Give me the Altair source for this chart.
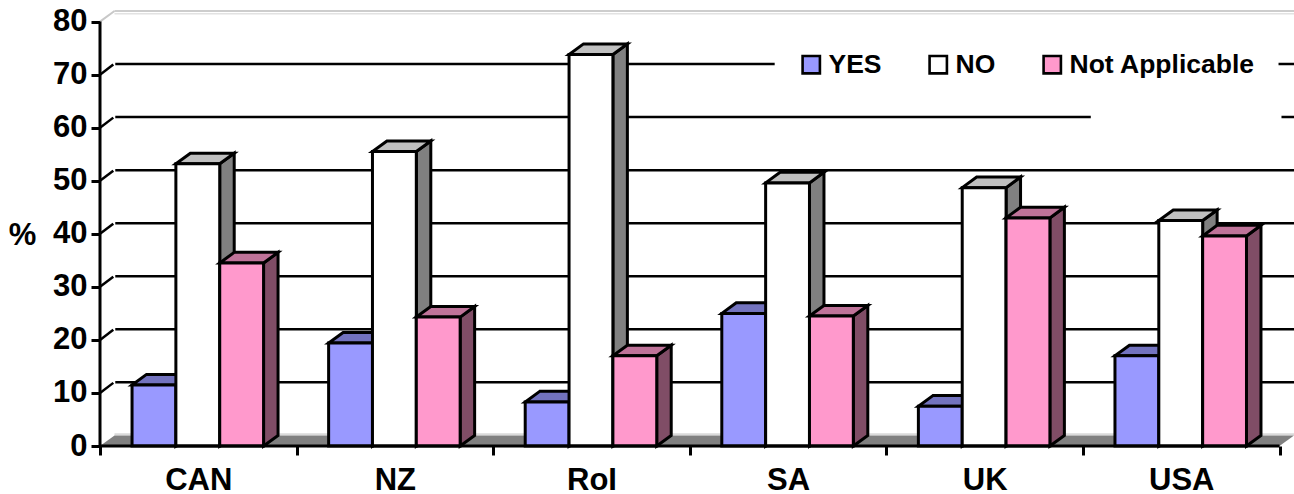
import altair as alt
import pandas as pd

# Survey responses (%) by country
countries = ["CAN", "NZ", "RoI", "SA", "UK", "USA"]
yes_values = [11.5, 19.4, 8.3, 25.0, 7.5, 17.0]
no_values = [53.2, 55.5, 73.8, 49.6, 48.7, 42.5]
na_values = [34.5, 24.3, 17.0, 24.5, 43.0, 39.6]
series_names = ["YES", "NO", "Not Applicable"]
y_ticks = [0, 10, 20, 30, 40, 50, 60, 70, 80]

# Colours per series: front face, top face, side face
front_colours = ["#9999FF", "#FFFFFF", "#FF99CC"]
top_colours = ["#7373BF", "#C0C0C0", "#BF7399"]
side_colours = ["#5A5A99", "#808080", "#804D66"]

# Extruded look, in axis units
DEPTH_X = 0.0737
DEPTH_Y = 2.0
BAR_W = 0.2230
GROUP_START = 0.163
X_END = 6 + DEPTH_X
Y_END = 80 + DEPTH_Y
FONT = "Liberation Sans"
EDGE = 3

x_scale = alt.Scale(domain=[0, X_END], nice=False, zero=False)
y_scale = alt.Scale(domain=[0, Y_END], nice=False)
X = lambda f="x", **k: alt.X(f"{f}:Q", scale=x_scale, axis=k.pop("axis", None), **k)
Y = lambda f="y", **k: alt.Y(f"{f}:Q", scale=y_scale, axis=k.pop("axis", None), **k)


def hrule(rows, colour, width):
    return alt.Chart(pd.DataFrame(rows)).mark_rule(color=colour, strokeWidth=width).encode(
        x=X(), x2="x2:Q", y=Y())


# Back wall: gridlines and their returns to the axis
grid_rows = [{"x": DEPTH_X + 0.004, "x2": X_END, "y": v + DEPTH_Y} for v in y_ticks[1:-1]]
grid = hrule(grid_rows, "#000000", 2.5)
return_rows = []
for v in y_ticks[1:-1]:
    return_rows += [{"v": v, "x": 0, "y": v}, {"v": v, "x": DEPTH_X - 0.006, "y": v + DEPTH_Y - 0.1}]
returns = alt.Chart(pd.DataFrame(return_rows)).mark_line(color="#000000", strokeWidth=2.5).encode(
    x=X(), y=Y(), detail="v:O")

# Pale top edge of the wall and pale floor edge
top_edge = hrule([{"x": DEPTH_X, "x2": X_END, "y": Y_END}], "#BDBDBD", 1.5)
top_edge2 = hrule([{"x": DEPTH_X, "x2": X_END, "y": Y_END - 0.5}], "#E2E2E2", 1.5)
corner_rows = [{"x": 0, "y": 80}, {"x": DEPTH_X, "y": Y_END}]
corner = alt.Chart(pd.DataFrame(corner_rows)).mark_line(color="#C8C8C8", strokeWidth=2).encode(x=X(), y=Y())
floor_edge = hrule([{"x": DEPTH_X, "x2": X_END, "y": DEPTH_Y + 0.2}], "#DADADA", 2)

# Floor
floor_rows = [{"x": 0, "x2": 6, "y": 0}, {"x": DEPTH_X, "x2": X_END, "y": DEPTH_Y}]
floor = alt.Chart(pd.DataFrame(floor_rows)).mark_area(orient="horizontal", color="#808080").encode(
    x=X(), x2="x2:Q", y=Y())

# Clear space behind the legend
mask_rows = [
    {"x": 3.432, "x2": 5.995, "y": 70.5, "y2": 74},
    {"x": 5.04, "x2": 6.01, "y": 60.5, "y2": 64},
]
mask = alt.Chart(pd.DataFrame(mask_rows)).mark_rect(color="#FFFFFF").encode(
    x=X(), x2="x2:Q", y=Y(), y2="y2:Q")

# Three faces of every bar, one series at a time so nearer faces cover farther ones
bar_layers = []
colour_scale = alt.Scale(domain=series_names, range=front_colours)
legend = alt.Legend(
    orient="none", legendX=698, legendY=40, direction="horizontal", columns=3, title=None,
    symbolType="square", symbolSize=300, symbolStrokeColor="#000000", symbolStrokeWidth=2.6,
    labelFont=FONT, labelFontWeight="bold", labelFontSize=26.5, labelColor="#000000",
    labelOffset=4, columnPadding=42, symbolOpacity=1, labelLimit=400,
)
for s, (name, values) in enumerate(zip(series_names, [yes_values, no_values, na_values])):
    front, top, side = [], [], []
    for i, (c, v) in enumerate(zip(countries, values)):
        x0 = i + GROUP_START + s * BAR_W
        x1 = x0 + BAR_W
        front.append({"series": name, "x": x0, "x2": x1, "y": v})
        top += [{"bar": c, "x": x0, "x2": x1, "y": v},
                {"bar": c, "x": x0 + DEPTH_X, "x2": x1 + DEPTH_X, "y": v + DEPTH_Y}]
        side += [{"bar": c, "x": x1, "y": v, "y2": 0},
                 {"bar": c, "x": x1 + DEPTH_X, "y": v + DEPTH_Y, "y2": DEPTH_Y}]
    bar_layers.append(
        alt.Chart(pd.DataFrame(side)).mark_area(color=side_colours[s], stroke="#000000", strokeWidth=EDGE)
        .encode(x=X(), y=Y(), y2="y2:Q", detail="bar:N"))
    bar_layers.append(
        alt.Chart(pd.DataFrame(top)).mark_area(orient="horizontal", color=top_colours[s], stroke="#000000",
                                               strokeWidth=EDGE)
        .encode(x=X(), x2="x2:Q", y=Y(), detail="bar:N"))
    bar_layers.append(
        alt.Chart(pd.DataFrame(front)).mark_rect(stroke="#000000", strokeWidth=EDGE, opacity=1)
        .encode(x=X(), x2="x2:Q", y=Y(), y2=alt.datum(0),
                color=alt.Color("series:N", scale=colour_scale, legend=legend)))

# Axes: the horizontal one carries the boundary ticks, the vertical one the country names
tick_axis = alt.Axis(orient="bottom", values=list(range(7)), labels=False, title=None, domain=False,
                     tickSize=9, tickWidth=3, tickColor="#000000", grid=False)
label_axis = alt.Axis(orient="bottom", values=[i + 0.5 for i in range(6)], ticks=False, domain=False, title=None,
                      grid=False,
                      labelExpr="[" + ",".join(f"'{c}'" for c in countries) + "][floor(datum.value)]",
                      labelFont=FONT, labelFontWeight="bold", labelFontSize=31, labelColor="#000000",
                      labelPadding=19, labelAngle=0)
value_axis = alt.Axis(orient="left", values=y_ticks, domain=False, grid=False, tickSize=9, tickWidth=3,
                      tickColor="#000000",
                      labelFont=FONT, labelFontWeight="bold", labelFontSize=31, labelColor="#000000",
                      labelPadding=4, title="%", titleAngle=0, titleFont=FONT, titleFontWeight="bold",
                      titleFontSize=31, titleColor="#000000", titleAlign="center", titleBaseline="middle",
                      titleX=-78, titleY=224)

x_line = alt.Chart(pd.DataFrame([{"x": 0, "x2": 6, "y": 0}])).mark_rule(color="#000000", strokeWidth=EDGE).encode(
    x=X(axis=tick_axis), x2="x2:Q", y=Y())
y_line = alt.Chart(pd.DataFrame([{"x": 0, "y": 0, "y2": 80}])).mark_rule(color="#000000", strokeWidth=EDGE).encode(
    x=X(axis=label_axis), y=Y(axis=value_axis), y2="y2:Q")

chart = (
    alt.layer(top_edge, top_edge2, corner, floor_edge, floor, grid, returns, mask, *bar_layers, x_line, y_line)
    .resolve_axis(x="independent", y="independent")
    .properties(
        width=1194, height=435,
        autosize=alt.AutoSizeParams(type="none"),
        padding={"left": 100, "top": 11, "right": 0, "bottom": 48},
        background="#FFFFFF",
    )
    .configure_view(stroke=None)
)

chart.save("out.html", embed_options={"renderer": "svg", "actions": False})
